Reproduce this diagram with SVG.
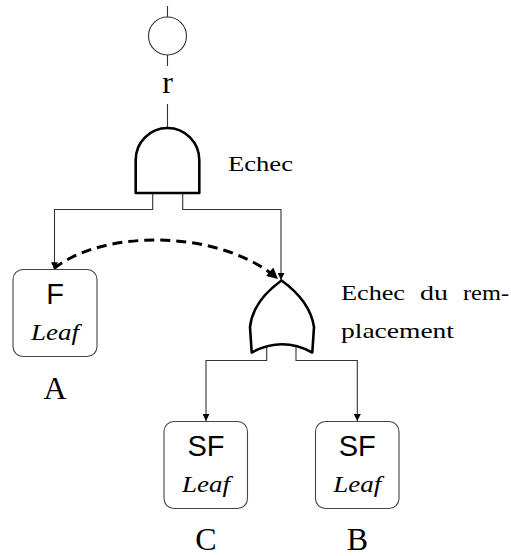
<svg xmlns="http://www.w3.org/2000/svg" width="511" height="556" viewBox="0 0 511 556">
<style>
.wire{fill:none;stroke:#333;stroke-width:1.1}
.gate{fill:#fff;stroke:#000;stroke-width:2.6;stroke-linejoin:round}
.box{fill:#fff;stroke:#444;stroke-width:1.1}
.txt{font-family:"Liberation Serif",serif;font-size:22px;fill:#000}
.lbl{font-family:"Liberation Serif",serif;font-size:32px;fill:#000;text-anchor:middle}
.sans{font-family:"Liberation Sans",Arial,sans-serif;font-size:29px;fill:#000;text-anchor:middle}
.leaf{font-family:"Liberation Serif",serif;font-style:italic;font-size:23px;fill:#000;text-anchor:middle}
.dash{fill:none;stroke:#000;stroke-width:3;stroke-dasharray:10,6}
</style>
<defs>
<marker id="arr" viewBox="0 0 10 10" refX="10" refY="5" markerWidth="9" markerHeight="7" orient="auto" markerUnits="userSpaceOnUse"><path d="M0,0 L10,5 L0,10 Z" fill="#000"/></marker>
<marker id="big" viewBox="0 0 10 10" refX="10" refY="5" markerWidth="14" markerHeight="11" orient="auto" markerUnits="userSpaceOnUse"><path d="M0,0 L10,5 L0,10 Z" fill="#000"/></marker>
</defs>
<g id="connectors">
<line class="wire" x1="167.5" y1="6" x2="167.5" y2="17"/>
<line class="wire" x1="167.5" y1="55" x2="167.5" y2="66"/>
<line class="wire" x1="167.5" y1="104" x2="167.5" y2="128"/>
<path class="wire" d="M152.7,193 V209.5 H54.5 V269.3" marker-end="url(#arr)"/>
<path class="wire" d="M182.7,193 V209.5 H281 V280" marker-end="url(#arr)"/>
<path class="wire" d="M266.7,345 V360.5 H206 V421" marker-end="url(#arr)"/>
<path class="wire" d="M296,345 V360.5 H357.3 V421" marker-end="url(#arr)"/>
<path class="dash" d="M54,268.5 C105,228 222,230 278,279" marker-end="url(#big)"/>
</g>
<g id="root">
<circle cx="167.5" cy="36" r="19" fill="#fff" stroke="#333" stroke-width="1.1"/>
<text class="lbl" x="167.5" y="93">r</text>
</g>
<g id="and-gate">
<path class="gate" d="M135.7,193 L135.7,160 A31.8,32 0 0 1 199.3,160 L199.3,193 Z"/>
<text class="txt" x="228" y="171" textLength="65" lengthAdjust="spacingAndGlyphs">Echec</text>
</g>
<g id="or-gate">
<path class="gate" d="M281.5,280.5 Q253,301 250,327 L251.7,352.5 Q282,336 312.3,352.5 L314,327 Q310,301 281.5,280.5 Z"/>
<text class="txt" y="300"><tspan x="341" textLength="64" lengthAdjust="spacingAndGlyphs">Echec</tspan><tspan x="420" textLength="28" lengthAdjust="spacingAndGlyphs">du</tspan><tspan x="463" textLength="46" lengthAdjust="spacingAndGlyphs">rem-</tspan></text>
<text class="txt" x="341" y="338" textLength="113" lengthAdjust="spacingAndGlyphs">placement</text>
</g>
<g id="A">
<rect class="box" x="13" y="269.5" width="84" height="87" rx="10"/>
<text class="sans" x="55" y="304">F</text>
<text class="leaf" x="55" y="340" textLength="48" lengthAdjust="spacingAndGlyphs">Leaf</text>
<text class="lbl" x="55" y="399">A</text>
</g>
<g id="C">
<rect class="box" x="164" y="421.5" width="83.5" height="87" rx="10"/>
<text class="sans" x="206" y="455.5">SF</text>
<text class="leaf" x="206" y="491.5" textLength="48" lengthAdjust="spacingAndGlyphs">Leaf</text>
<text class="lbl" x="206" y="550">C</text>
</g>
<g id="B">
<rect class="box" x="315.5" y="421.5" width="83.5" height="87" rx="10"/>
<text class="sans" x="357.3" y="455.5">SF</text>
<text class="leaf" x="357.3" y="491.5" textLength="48" lengthAdjust="spacingAndGlyphs">Leaf</text>
<text class="lbl" x="357.3" y="550">B</text>
</g>
</svg>
